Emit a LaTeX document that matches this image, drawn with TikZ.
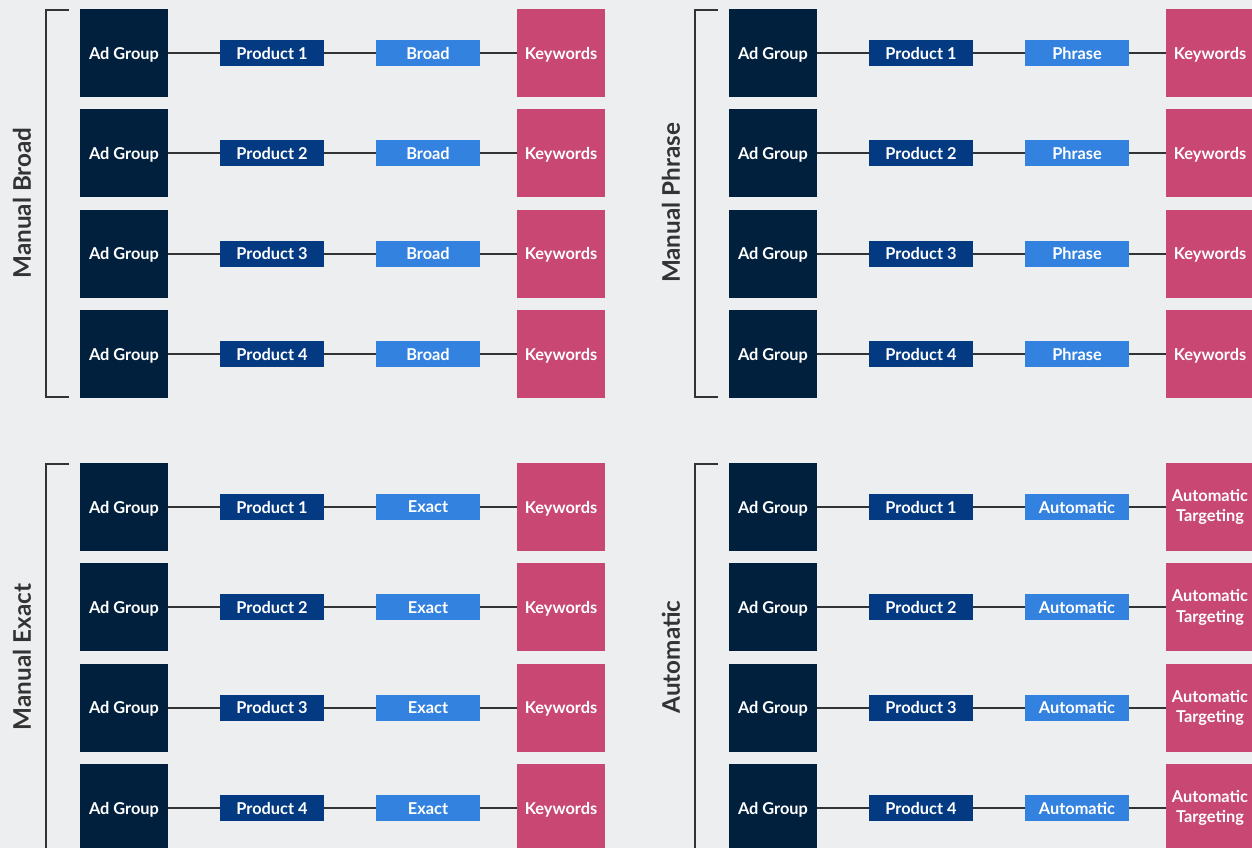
\documentclass[tikz,border=0pt]{standalone}
\usepackage{fontspec}
\setmainfont{Lato}
\usetikzlibrary{positioning}
\definecolor{bgcol}{HTML}{EDEEF0}
\definecolor{navy}{HTML}{00203D}
\definecolor{prodblue}{HTML}{033A82}
\definecolor{matchblue}{HTML}{3382DF}
\definecolor{kwpink}{HTML}{C84873}
\definecolor{linecol}{HTML}{333333}

\begin{document}
\begin{tikzpicture}[x=0.02cm,y=-0.02cm,
    box/.style={inner sep=0pt,text=white,font=\bfseries\fontsize{9.3}{11.5}\selectfont,align=center},
    adgroup/.style={box,fill=navy,minimum width=1.76cm,minimum height=1.76cm,text depth=0pt},
    product/.style={box,fill=prodblue,minimum width=2.08cm,minimum height=0.52cm},
    matchtype/.style={box,fill=matchblue,minimum width=2.08cm,minimum height=0.52cm},
    keywords/.style={box,fill=kwpink,minimum width=1.76cm,minimum height=1.76cm},
    kwone/.style={text depth=0pt},
    kwtwo/.style={},
    link/.style={draw=linecol,line width=1.1pt},
    bracket/.style={draw=linecol,line width=1.4pt},
    campaign/.style={rotate=90,font=\bfseries\fontsize{13.8}{16}\selectfont,text=linecol}]
  \fill[bgcol] (0,0) rectangle (1252,848);
  \useasboundingbox (0,0) rectangle (1252,848);
  \foreach \qx/\qy/\camp/\mt/\kw/\kwopt [count=\q] in {0/0/Manual Broad/Broad/Keywords/kwone,
      649/0/Manual Phrase/Phrase/Keywords/kwone,
      0/454/Manual Exact/Exact/Keywords/kwone,
      649/454/Automatic/Automatic/{Automatic\\Targeting}/kwtwo}{
    % campaign bracket and label
    \coordinate (top\q) at (\qx+69,\qy+10);
    \coordinate (bot\q) at (\qx+69,\qy+397);
    \draw[bracket] (top\q) -| (\qx+46,\qy+397) -- (bot\q);
    \node[campaign] (camp\q) at (\qx+22,\qy+203) {\camp};
    \foreach \r in {1,...,4}{
      \pgfmathsetmacro{\ry}{\qy+53+(\r-1)*100.4}
      \node[adgroup] (ag\q\r) at (\qx+124,\ry) {Ad Group};
      \node[product] (pr\q\r) at (\qx+272,\ry) {Product \r};
      \node[matchtype] (mt\q\r) at (\qx+428,\ry) {\mt};
      \node[keywords,\kwopt] (kw\q\r) at (\qx+561,\ry) {\kw};
      \draw[link] (ag\q\r) -- (pr\q\r);
      \draw[link] (pr\q\r) -- (mt\q\r);
      \draw[link] (mt\q\r) -- (kw\q\r);
    }
  }
\end{tikzpicture}
\end{document}
